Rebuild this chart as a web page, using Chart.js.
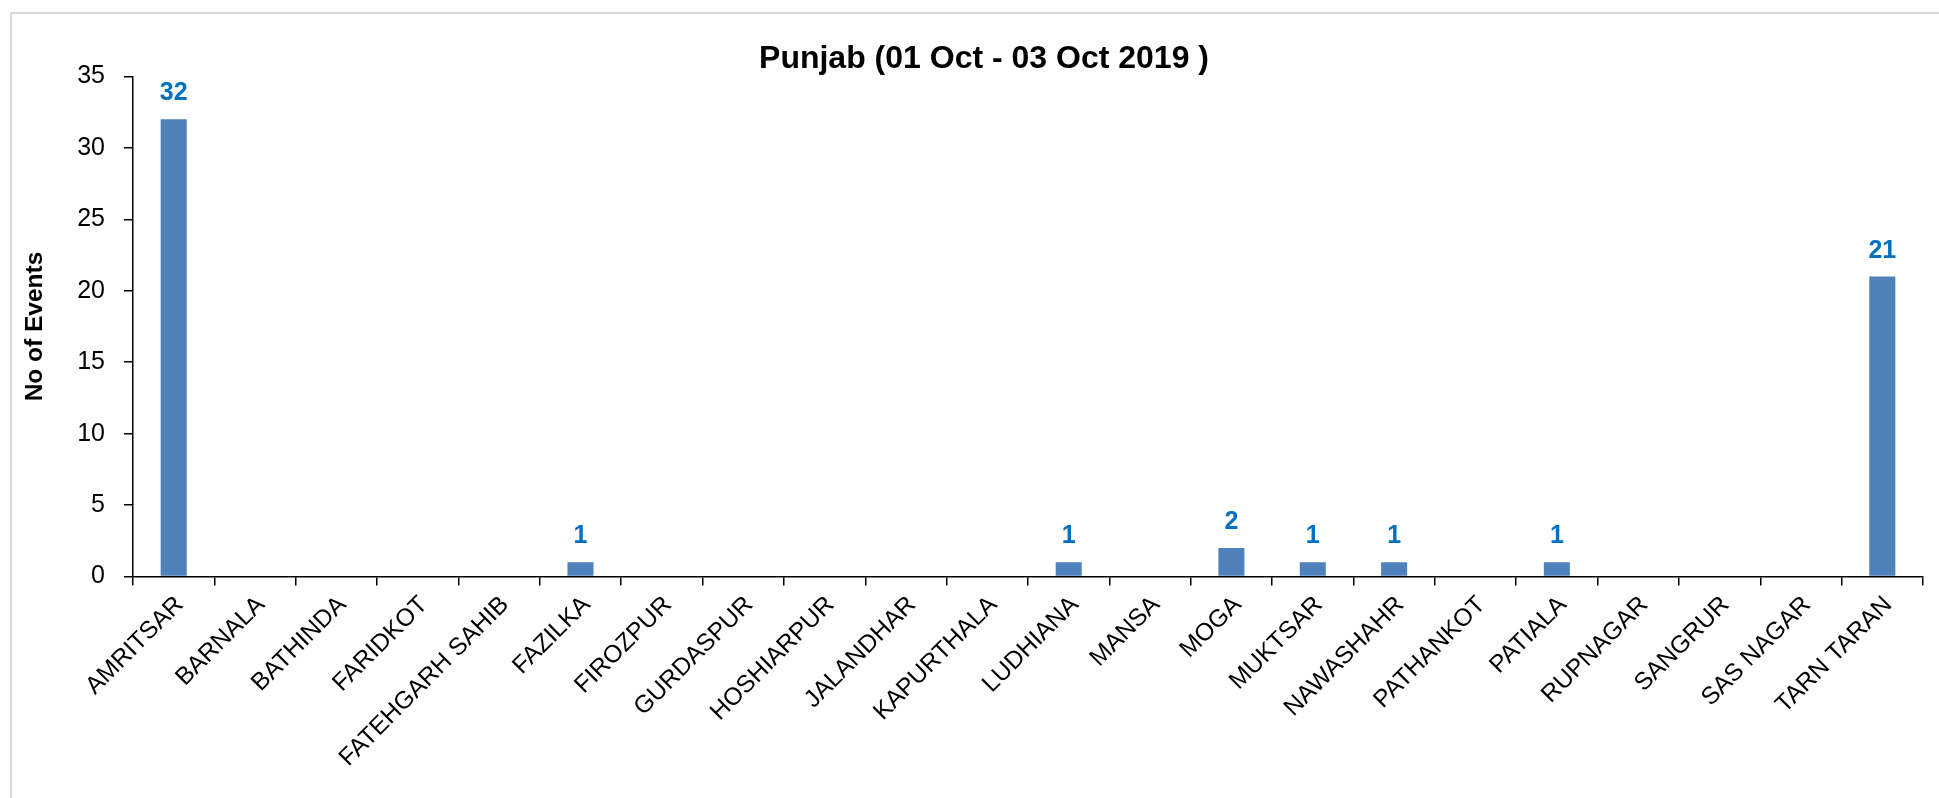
<!DOCTYPE html>
<html>
<head>
<meta charset="utf-8">
<script src="https://cdn.jsdelivr.net/npm/chart.js@4"></script>
<style>
    html, body { margin: 0; padding: 0; background: #fff; }
    #wrap { width: 1939px; height: 798px; position: relative; }
</style>
</head>
<body>
<div id="wrap"><canvas id="punjabChart"></canvas></div>
<script>
const chartTitle = "Punjab (01 Oct - 03 Oct 2019 )";
const yTitle = "No of Events";

const districts = [
    "AMRITSAR", "BARNALA", "BATHINDA", "FARIDKOT", "FATEHGARH SAHIB", "FAZILKA",
    "FIROZPUR", "GURDASPUR", "HOSHIARPUR", "JALANDHAR", "KAPURTHALA", "LUDHIANA",
    "MANSA", "MOGA", "MUKTSAR", "NAWASHAHR", "PATHANKOT", "PATIALA",
    "RUPNAGAR", "SANGRUR", "SAS NAGAR", "TARN TARAN"
];
const events = [32, 0, 0, 0, 0, 1, 0, 0, 0, 0, 0, 1, 0, 2, 1, 1, 0, 1, 0, 0, 0, 21];

const yMin = 0;
const yMax = 35;
const yStep = 5;

const FONT = "'Liberation Sans', Arial, sans-serif";

// light frame on top and left (the rest is cut off in the original)
const framePlugin = {
    id: "frame",
    beforeDraw(chart) {
        const ctx = chart.ctx;
        ctx.save();
        ctx.strokeStyle = "#d9d9d9";
        ctx.lineWidth = 2;
        ctx.beginPath();
        ctx.moveTo(11, 798);
        ctx.lineTo(11, 13);
        ctx.lineTo(1939, 13);
        ctx.stroke();
        ctx.restore();
    }
};

const titlePlugin = {
    id: "topTitle",
    afterDraw(chart) {
        const ctx = chart.ctx;
        ctx.save();
        ctx.font = "bold 32px " + FONT;
        ctx.fillStyle = "#000";
        ctx.textAlign = "center";
        ctx.textBaseline = "alphabetic";
        ctx.fillText(chartTitle, 984, 68);
        ctx.restore();
    }
};

// value labels above non-zero bars
const valueLabels = {
    id: "valueLabels",
    afterDatasetsDraw(chart) {
        const ctx = chart.ctx;
        const meta = chart.getDatasetMeta(0);
        ctx.save();
        ctx.font = "bold 25px " + FONT;
        ctx.fillStyle = "#0070C0";
        ctx.textAlign = "center";
        ctx.textBaseline = "alphabetic";
        meta.data.forEach((bar, i) => {
            const v = events[i];
            if (!v) return;
            ctx.fillText(String(v), bar.x, bar.y - 19);
        });
        ctx.restore();
    }
};

new Chart(document.getElementById("punjabChart"), {
    type: "bar",
    data: {
        labels: districts,
        datasets: [{
            label: yTitle,
            data: events,
            backgroundColor: "#4F81BD",
            categoryPercentage: 1,
            barPercentage: 0.32
        }]
    },
    options: {
        responsive: true,
        maintainAspectRatio: false,
        animation: false,
        layout: { padding: { top: 76.5, right: 16, bottom: 0, left: 0 } },
        plugins: {
            legend: { display: false },
            tooltip: { enabled: false }
        },
        scales: {
            x: {
                afterFit: scale => { scale.height = 221.5; },
                grid: {
                    offset: true,
                    drawOnChartArea: false,
                    drawTicks: true,
                    tickLength: 9,
                    color: "#000",
                    lineWidth: 1.5
                },
                border: { display: true, color: "#000", width: 1.5 },
                ticks: {
                    autoSkip: false,
                    maxRotation: 45,
                    minRotation: 45,
                    padding: 5,
                    labelOffset: 6,
                    color: "#000",
                    font: { family: FONT, size: 24.5 }
                }
            },
            y: {
                min: yMin,
                max: yMax,
                afterFit: scale => { scale.width = 133; },
                grid: {
                    drawOnChartArea: false,
                    drawTicks: true,
                    tickLength: 9,
                    color: "#000",
                    lineWidth: 1.5
                },
                border: { display: true, color: "#000", width: 1.5 },
                ticks: {
                    stepSize: yStep,
                    padding: 19,
                    color: "#000",
                    font: { family: FONT, size: 25 }
                },
                title: {
                    display: true,
                    text: yTitle,
                    color: "#000",
                    padding: { top: 20.3, bottom: 0 },
                    font: { family: FONT, size: 24.5, weight: "bold" }
                }
            }
        }
    },
    plugins: [framePlugin, titlePlugin, valueLabels]
});
</script>
</body>
</html>
